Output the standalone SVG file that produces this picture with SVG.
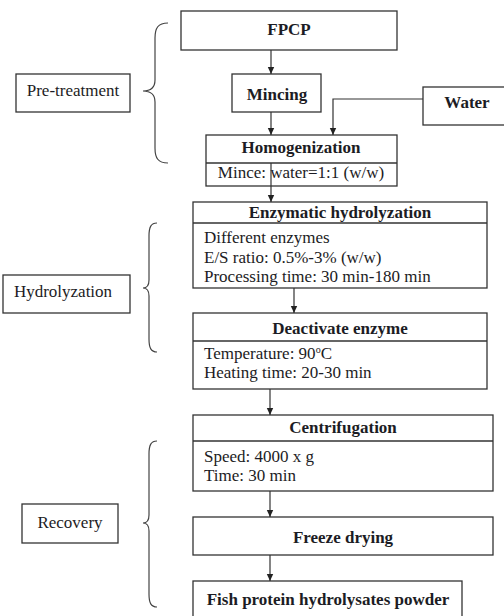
<svg xmlns="http://www.w3.org/2000/svg" width="504" height="616" viewBox="0 0 504 616">
  <defs>
    <marker id="arrow" markerWidth="8" markerHeight="8" refX="7" refY="4" orient="auto" markerUnits="userSpaceOnUse">
      <path d="M0,0.8 L7,4 L0,7.2 Z" fill="#222"/>
    </marker>
    <style>
      .box { fill: #fff; stroke: #333; stroke-width: 1.3; }
      .div { stroke: #333; stroke-width: 1.3; }
      .t { font-family: "Liberation Serif", "Times New Roman", serif; font-size: 17px; fill: #1c1c24; }
      .b { font-weight: bold; text-anchor: middle; }
      .c { text-anchor: middle; }
      .link { fill: none; stroke: #333; stroke-width: 1.2; }
      .brace { fill: none; stroke: #444; stroke-width: 1.2; }
    </style>
  </defs>

  <!-- Stage labels and braces -->
  <g id="pretreatment">
    <rect class="box" x="16" y="74" width="114" height="38"/>
    <text class="t c" x="73" y="96">Pre-treatment</text>
    <path class="brace" d="M168,23 C158,23 155,28 155,38 L155,80 C155,88 150,91 143,91 C150,91 155,94 155,102 L155,148 C155,158 158,163 168,163"/>
  </g>
  <g id="hydrolyzation">
    <rect class="box" x="3" y="275" width="127" height="38"/>
    <text class="t c" x="63" y="297">Hydrolyzation</text>
    <path class="brace" d="M157,223 C151,223 149,227 149,236 L149,280 C149,285 147,288 143,288 C147,288 149,291 149,296 L149,339 C149,348 151,352 157,352"/>
  </g>
  <g id="recovery">
    <rect class="box" x="22" y="504" width="96" height="39"/>
    <text class="t c" x="70" y="528">Recovery</text>
    <path class="brace" d="M157,441 C151,441 149,445 149,454 L149,515 C149,520 147,523 143,523 C147,523 149,526 149,531 L149,594 C149,603 151,607 157,607"/>
  </g>

  <!-- Process steps -->
  <g id="fpcp">
    <rect class="box" x="181" y="11" width="216" height="39"/>
    <text class="t b" x="289" y="35">FPCP</text>
  </g>
  <g id="mincing">
    <rect class="box" x="232" y="74" width="89" height="38"/>
    <text class="t b" x="277" y="100">Mincing</text>
  </g>
  <g id="water">
    <rect class="box" x="423" y="87" width="90" height="38"/>
    <text class="t b" x="467" y="108">Water</text>
  </g>
  <g id="homogenization">
    <rect class="box" x="206" y="135" width="191" height="51"/>
    <line class="div" x1="206" y1="163" x2="397" y2="163"/>
    <text class="t b" x="301" y="153">Homogenization</text>
    <text class="t c" x="301" y="178">Mince: water=1:1 (w/w)</text>
  </g>
  <g id="enzymatic">
    <rect class="box" x="193" y="202" width="294" height="86"/>
    <line class="div" x1="193" y1="223" x2="487" y2="223"/>
    <text class="t b" x="340" y="218">Enzymatic hydrolyzation</text>
    <text class="t" x="204" y="243">Different enzymes</text>
    <text class="t" x="204" y="263">E/S ratio: 0.5%-3% (w/w)</text>
    <text class="t" x="204" y="282">Processing time: 30 min-180 min</text>
  </g>
  <g id="deactivate">
    <rect class="box" x="193" y="313" width="294" height="76"/>
    <line class="div" x1="193" y1="341" x2="487" y2="341"/>
    <text class="t b" x="340" y="334">Deactivate enzyme</text>
    <text class="t" x="204" y="359">Temperature: 90<tspan font-size="10" dy="-6">o</tspan><tspan dy="6">C</tspan></text>
    <text class="t" x="204" y="378">Heating time: 20-30 min</text>
  </g>
  <g id="centrifugation">
    <rect class="box" x="193" y="415" width="300" height="76"/>
    <line class="div" x1="193" y1="441" x2="493" y2="441"/>
    <text class="t b" x="343" y="433">Centrifugation</text>
    <text class="t" x="204" y="462">Speed: 4000 x g</text>
    <text class="t" x="204" y="481">Time: 30 min</text>
  </g>
  <g id="freeze-drying">
    <rect class="box" x="193" y="517" width="300" height="38"/>
    <text class="t b" x="343" y="543">Freeze drying</text>
  </g>
  <g id="fph-powder">
    <rect class="box" x="193" y="581" width="269" height="50"/>
    <text class="t b" x="328" y="605">Fish protein hydrolysates powder</text>
  </g>

  <!-- Connectors -->
  <g id="connectors">
    <line class="link" x1="271" y1="50" x2="271" y2="74" marker-end="url(#arrow)"/>
    <line class="link" x1="271" y1="112" x2="271" y2="135" marker-end="url(#arrow)"/>
    <polyline class="link" points="423,99 333,99 333,135" marker-end="url(#arrow)"/>
    <line class="link" x1="271" y1="163" x2="271" y2="202" marker-end="url(#arrow)"/>
    <line class="link" x1="294" y1="288" x2="294" y2="313" marker-end="url(#arrow)"/>
    <line class="link" x1="270" y1="389" x2="270" y2="415" marker-end="url(#arrow)"/>
    <line class="link" x1="270" y1="491" x2="270" y2="517" marker-end="url(#arrow)"/>
    <line class="link" x1="270" y1="555" x2="270" y2="581" marker-end="url(#arrow)"/>
  </g>
</svg>
